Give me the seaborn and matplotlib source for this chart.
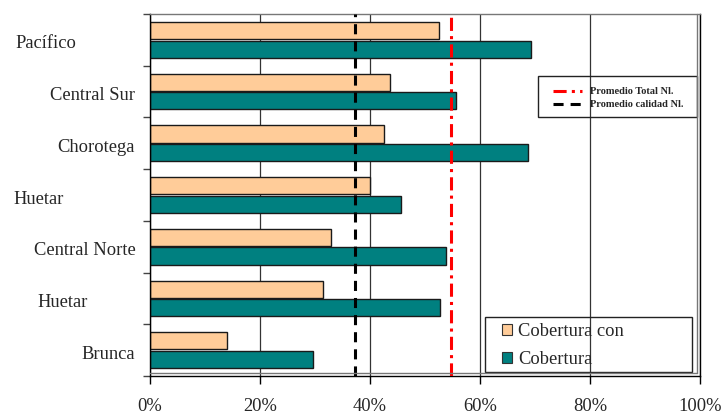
import numpy as np
import pandas as pd
import matplotlib
matplotlib.use("Agg")
import matplotlib.pyplot as plt
import seaborn as sns
from matplotlib.lines import Line2D
from matplotlib.patches import Patch, Rectangle
from matplotlib.ticker import FuncFormatter
import matplotlib.transforms as mtransforms

# Cobertura por región (%)
regiones = ["Pacífico Central", "Central Sur", "Chorotega", "Huetar Atlántica",
            "Central Norte", "Huetar Norte", "Brunca"]
etiquetas = ["Pacífico", "Central Sur", "Chorotega", "Huetar",
             "Central Norte", "Huetar", "Brunca"]
cobertura_calidad = [52.5, 43.7, 42.6, 40.0, 32.9, 31.5, 14.0]
cobertura = [69.3, 55.7, 68.8, 45.6, 53.8, 52.8, 29.7]
promedio_total = 54.8
promedio_calidad = 37.3
series = ["Cobertura con calidad", "Cobertura"]
nombres_leyenda = ["Cobertura con", "Cobertura"]
xticks = [0, 20, 40, 60, 80, 100]

# horizontal position (pixels from left) of each region label centre
label_cx = [45.5, 93, 96, 38.5, 84.5, 63, 108]

df = pd.DataFrame({
    "region": regiones * 2,
    "valor": cobertura_calidad + cobertura,
    "serie": [series[0]] * len(regiones) + [series[1]] * len(regiones),
})

sns.set_style("white")
plt.rcParams["font.family"] = ["Liberation Serif", "DejaVu Serif"]

W, H = 722, 416
fig = plt.figure(figsize=(W / 100, H / 100), dpi=100)
L, R, T, B = 150, 700, 14, 376
ax = fig.add_axes([L / W, 1 - B / H, (R - L) / W, (B - T) / H])

naranja, verde = "#FFCC99", "#008080"
sns.barplot(data=df, y="region", x="valor", hue="serie", orient="h",
            palette=[naranja, verde], saturation=1, width=0.72, gap=0.08,
            edgecolor="#1a1a1a", linewidth=1.0, ax=ax, zorder=2)
ax.get_legend().remove()

ax.set_xlim(0, 100)
ax.set_ylim(len(regiones) - 0.5, -0.5)
ax.set_xlabel("")
ax.set_ylabel("")
ax.set_axisbelow(True)
ax.xaxis.grid(True, color="#333333", lw=0.9, zorder=0)
ax.yaxis.grid(False)

ax.set_xticks(xticks)
ax.xaxis.set_major_formatter(FuncFormatter(lambda v, p: f"{v:.0f}%"))
ax.tick_params(axis="x", length=6, width=1, color="black", direction="out",
               pad=10, labelsize=13.3, bottom=True)
ax.set_yticks(np.arange(-0.5, len(regiones), 1))
ax.set_yticklabels([])
ax.tick_params(axis="y", length=5, width=1, color="#444444", direction="out",
               left=True)

for s in ["left", "bottom", "right"]:
    ax.spines[s].set_color("black")
    ax.spines[s].set_linewidth(1.0)
ax.spines["top"].set_color("#777777")
ax.spines["top"].set_linewidth(1.0)

# inner plot-area border (right and bottom double line)
fig.add_artist(Line2D([697 / W, 697 / W], [1 - 14 / H, 1 - 373 / H],
                      transform=fig.transFigure, color="#777777", lw=1))
fig.add_artist(Line2D([L / W, 697 / W], [1 - 373 / H, 1 - 373 / H],
                      transform=fig.transFigure, color="#777777", lw=1))

# region labels
trans = mtransforms.blended_transform_factory(ax.transAxes, ax.transData)
for i, (txt, cx) in enumerate(zip(etiquetas, label_cx)):
    ax.text((cx - L) / (R - L), i + 0.08, txt, transform=trans, ha="center",
            va="center", fontsize=13.3, clip_on=False)

# reference averages
estilo_total = dict(color="red", lw=2.2, linestyle=(0, (4.3, 1.7, 1.0, 1.7)))
estilo_calidad = dict(color="black", lw=2.2, linestyle=(0, (3.3, 2.3)))
ax.axvline(promedio_total, zorder=4, **estilo_total)
ax.axvline(promedio_calidad, zorder=4, **estilo_calidad)

# legend for the average lines
lin_handles = [Line2D([], [], **estilo_total), Line2D([], [], **estilo_calidad)]
fig.legend(lin_handles, ["Promedio Total Nl.", "Promedio calidad Nl."],
           loc="upper left", bbox_to_anchor=(553 / W, 1 - 87 / H),
           bbox_transform=fig.transFigure, frameon=False, borderpad=0,
           borderaxespad=0, handlelength=2.8, handletextpad=0.75,
           labelspacing=0.35,
           prop={"family": "Liberation Serif", "weight": "bold", "size": 7.5})
fig.add_artist(Rectangle((538 / W, 1 - 117 / H), 159 / W, 41 / H,
                         transform=fig.transFigure, fill=False,
                         ec="#222222", lw=1))

# legend for the bars
bar_handles = [Patch(facecolor=naranja, edgecolor="#333333", lw=0.8),
               Patch(facecolor=verde, edgecolor="#333333", lw=0.8)]
fig.legend(bar_handles, nombres_leyenda, loc="upper left",
           bbox_to_anchor=(502 / W, 1 - 323 / H),
           bbox_transform=fig.transFigure, frameon=False, borderpad=0,
           borderaxespad=0, handlelength=0.55, handleheight=0.6,
           handletextpad=0.33, labelspacing=0.6,
           prop={"family": "Liberation Serif", "size": 13.3})
fig.add_artist(Rectangle((485 / W, 1 - 372 / H), 207 / W, 55 / H,
                         transform=fig.transFigure, fill=False,
                         ec="#222222", lw=1))

fig.savefig("out.png", dpi=100)
